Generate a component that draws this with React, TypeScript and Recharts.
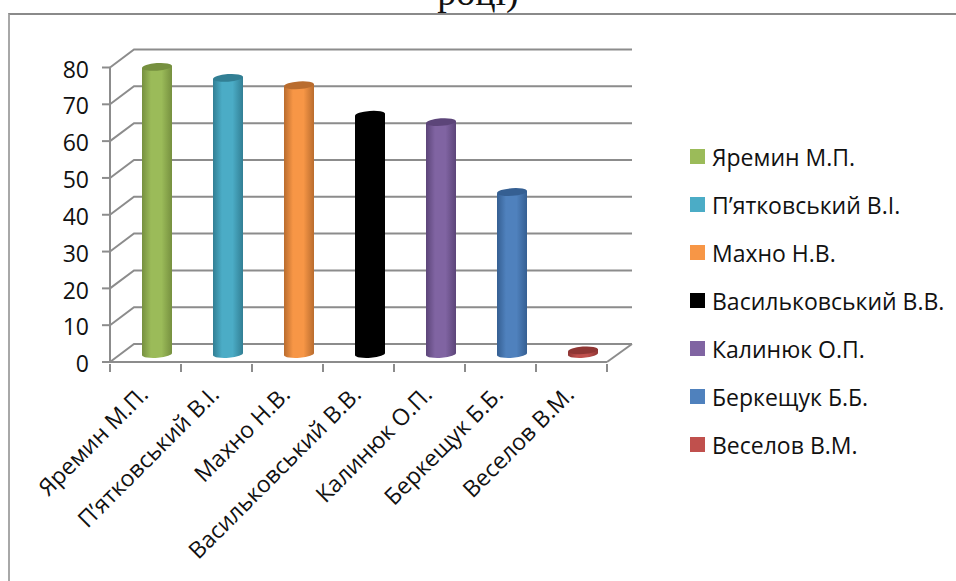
import { BarChart, Bar, XAxis, YAxis, CartesianGrid, Legend } from "recharts";

const names = ["Яремин М.П.", "П’ятковський В.І.", "Махно Н.В.", "Васильковський В.В.", "Калинюк О.П.", "Беркещук Б.Б.", "Веселов В.М."];
const scores = [78, 75, 73, 65, 63, 44, 1];
const colors = ["#9BBB59", "#4BACC6", "#F79646", "#000000", "#8064A2", "#4F81BD", "#C0504D"];
const darkColors = ["#76903F", "#327F94", "#B96C2E", "#000000", "#5C4579", "#355F92", "#8F3634"];
const yTicks = [0, 10, 20, 30, 40, 50, 60, 70, 80];
const titleTail = "році)";

const rows = names.map((name, i) => ({ name, [name]: scores[i] }));

const FONT = "'Open Sans', 'Noto Sans', sans-serif";
const LINE = "#8c8c8c";
const DEPTH_X = 24;
const DEPTH_Y = 18;

// back wall: each gridline goes up the side wall and then along the back
const GridLine = (props: any) => {
  const { x1, x2, y1, index } = props;
  const bx = x1 + DEPTH_X;
  const by = y1 - DEPTH_Y;
  const isFloor = y1 > 350;
  return (
    <g key={index} fill="none" stroke={LINE} strokeWidth={2}>
      <path d={`M${x1},${y1} L${bx},${by} L${x2 + 25},${by}`} />
      {isFloor && <path d={`M${x2},${y1} L${x2 + 25},${by}`} />}
    </g>
  );
};

const Cylinder = (props: any) => {
  const { x, y, width, height, index } = props;
  if (!height) return null;
  const i = names.indexOf(props.name ?? names[index]);
  const dx = 11;
  const dy = -8;
  const left = x + dx;
  const right = left + width;
  const top = y + dy;
  const bottom = y + height + dy;
  const rx = width / 2;
  const ry = 3.8;
  const tilt = 1.2;
  return (
    <g>
      <path
        d={`M${left},${top + tilt} L${left},${bottom + tilt} A${rx},${ry} -4 0 0 ${right},${bottom - tilt} L${right},${top - tilt} Z`}
        fill={`url(#cyl${i})`}
      />
      <ellipse cx={left + rx} cy={top} rx={rx} ry={ry} fill={darkColors[i]} transform={`rotate(-4 ${left + rx} ${top})`} />
    </g>
  );
};

// tick marks sit on the category edges, not the centres
const NameTick = ({ x, y, payload, index }: any) => {
  const half = payload.offset;
  return (
    <g>
      <line x1={x - half} x2={x - half} y1={y} y2={y + 8} stroke={LINE} strokeWidth={2} />
      {index === names.length - 1 && <line x1={x + half} x2={x + half} y1={y} y2={y + 8} stroke={LINE} strokeWidth={2} />}
      <text
        x={x + 4}
        y={y + 32}
        transform={`rotate(-45 ${x + 4} ${y + 32})`}
        textAnchor="end"
        fontFamily={FONT}
        fontSize={23}
        fill="#111"
      >
        {payload.value}
      </text>
    </g>
  );
};

const NameLegend = ({ payload }: any) => (
  <div style={{ fontFamily: FONT, fontSize: 23, color: "#111" }}>
    {(payload ?? []).map((entry: any) => (
      <div key={entry.value} style={{ position: "relative", height: 48, lineHeight: "48px", paddingLeft: 22, whiteSpace: "nowrap" }}>
        <span style={{ position: "absolute", left: 0, top: 16, width: 15, height: 15, background: entry.color }} />
        {entry.value}
      </div>
    ))}
  </div>
);

export default function App() {
  return (
    <div style={{ position: "absolute", left: 0, top: 0, width: 956, height: 581, background: "#fff", overflow: "hidden" }}>
      <div
        style={{
          position: "absolute",
          left: 8,
          top: 13,
          width: 948,
          height: 568,
          borderTop: "2px solid #8a8a8a",
          borderLeft: "2px solid #a8a8a8",
          boxSizing: "border-box",
        }}
      />
      <div
        style={{
          position: "absolute",
          left: 0,
          width: 956,
          top: -26,
          textAlign: "center",
          fontFamily: "'Liberation Serif', serif",
          fontSize: 38,
          lineHeight: "36px",
          color: "#111",
        }}
      >
        {titleTail}
      </div>
      <BarChart
        width={956}
        height={581}
        data={rows}
        margin={{ top: 67.5, right: 83, bottom: 0, left: 0 }}
        barSize={30}
        style={{ position: "absolute", left: 0, top: 0 }}
      >
        <defs>
          {colors.map((c, i) => (
            <linearGradient key={c} id={`cyl${i}`} x1="0" y1="0" x2="1" y2="0">
              <stop offset="0%" stopColor={darkColors[i]} />
              <stop offset="30%" stopColor={c} />
              <stop offset="65%" stopColor={c} />
              <stop offset="100%" stopColor={darkColors[i]} />
            </linearGradient>
          ))}
        </defs>
        <CartesianGrid vertical={false} horizontal={GridLine} />
        <XAxis
          dataKey="name"
          height={219}
          interval={0}
          tick={NameTick}
          tickLine={false}
          tickSize={0}
          axisLine={{ stroke: LINE, strokeWidth: 2 }}
        />
        <YAxis
          width={110}
          domain={[0, 80]}
          ticks={yTicks}
          tickSize={8}
          tickMargin={13}
          tick={{ fontFamily: FONT, fontSize: 23, fill: "#111", dy: 2 }}
          axisLine={{ stroke: LINE, strokeWidth: 2 }}
          tickLine={{ stroke: LINE, strokeWidth: 2 }}
        />
        <Legend
          layout="vertical"
          align="right"
          verticalAlign="top"
          itemSorter={null}
          content={<NameLegend />}
          wrapperStyle={{ left: 690, top: 133, width: 266, right: "auto" }}
        />
        {names.map((name, i) => (
          <Bar
            key={name}
            dataKey={name}
            name={name}
            stackId="a"
            fill={colors[i]}
            isAnimationActive={false}
            shape={<Cylinder name={name} />}
          />
        ))}
      </BarChart>
    </div>
  );
}
